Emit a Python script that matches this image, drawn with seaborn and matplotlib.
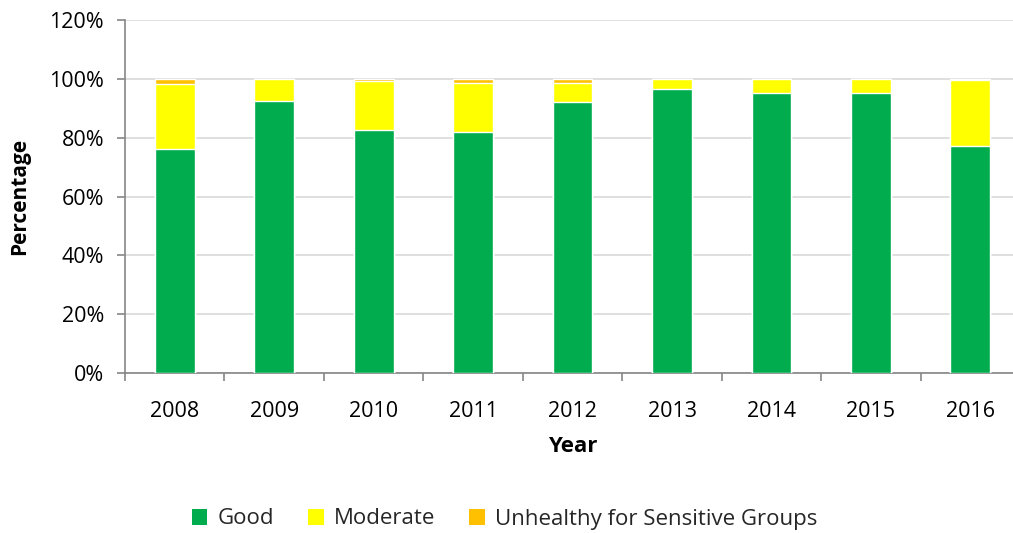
import matplotlib
matplotlib.use("Agg")
import matplotlib.pyplot as plt
import seaborn as sns
import pandas as pd
import numpy as np
from matplotlib.ticker import FuncFormatter, FixedLocator
from matplotlib.patches import Patch

years = ["2008", "2009", "2010", "2011", "2012", "2013", "2014", "2015", "2016"]
good = [76.1, 92.5, 82.6, 82.1, 92.2, 96.6, 95.2, 95.2, 77.1]
moderate = [22.2, 7.5, 16.6, 16.5, 6.4, 3.4, 4.8, 4.8, 22.6]
usg = [1.7, 0.0, 0.8, 1.4, 1.4, 0.0, 0.0, 0.0, 0.3]

colors = {"Good": "#00AC4E", "Moderate": "#FFFF00", "Unhealthy for Sensitive Groups": "#FFC000"}

sns.set_theme(style="white")
plt.rcParams['font.family'] = ['Open Sans', 'DejaVu Sans']

fig, ax = plt.subplots(figsize=(10.13, 5.33), dpi=100)
fig.subplots_adjust(left=0.1234, right=1.007, top=0.962, bottom=0.30)

df = pd.DataFrame({"Year": years, "Good": good, "Moderate": moderate, "USG": usg})
df["GM"] = df["Good"] + df["Moderate"]
df["All"] = df["GM"] + df["USG"]

w = 0.4
sns.barplot(data=df, x="Year", y="All", color=colors["Unhealthy for Sensitive Groups"], width=w, ax=ax, saturation=1, zorder=3)
sns.barplot(data=df, x="Year", y="GM", color=colors["Moderate"], width=w, ax=ax, saturation=1, zorder=3)
sns.barplot(data=df, x="Year", y="Good", color=colors["Good"], width=w, ax=ax, saturation=1, zorder=3)

ax.set_ylim(0, 120)
ax.set_xlim(-0.5, len(years) - 0.5)
ax.set_yticks(np.arange(0, 121, 20))
ax.yaxis.set_major_formatter(FuncFormatter(lambda v, p: f"{int(v)}%"))
ax.grid(axis="y", color="#D9D9D9", linewidth=1.2, zorder=0)
ax.set_axisbelow(True)

for s in ["top", "right"]:
    ax.spines[s].set_visible(False)
for s in ["left", "bottom"]:
    ax.spines[s].set_color("#868686")
    ax.spines[s].set_linewidth(1.2)

ax.tick_params(axis="y", which="major", left=True, length=6, color="#868686", width=1.2, labelsize=15.5, pad=9, labelcolor="#000000")
ax.tick_params(axis="x", which="major", bottom=False, labelsize=15.5, pad=14, labelcolor="#000000")
ax.xaxis.set_minor_locator(FixedLocator(np.arange(-0.5, len(years), 1.0)))
ax.tick_params(axis="x", which="minor", bottom=True, length=6, color="#868686", width=1.2)

ax.set_xlabel("Year", fontsize=16, fontweight="bold", labelpad=10, color="#000000")
ax.set_ylabel("Percentage", fontsize=15, fontweight="bold", labelpad=14, color="#000000")

handles = [Patch(facecolor=c, edgecolor="none", label=k) for k, c in colors.items()]
fig.legend(handles=handles, loc="center", bbox_to_anchor=(0.498, 1 - 519 / 533), ncol=3, frameon=False,
           fontsize=16, handlelength=0.7, handleheight=0.7, handletextpad=0.45, columnspacing=1.55)

fig.savefig("out.png", dpi=100)
